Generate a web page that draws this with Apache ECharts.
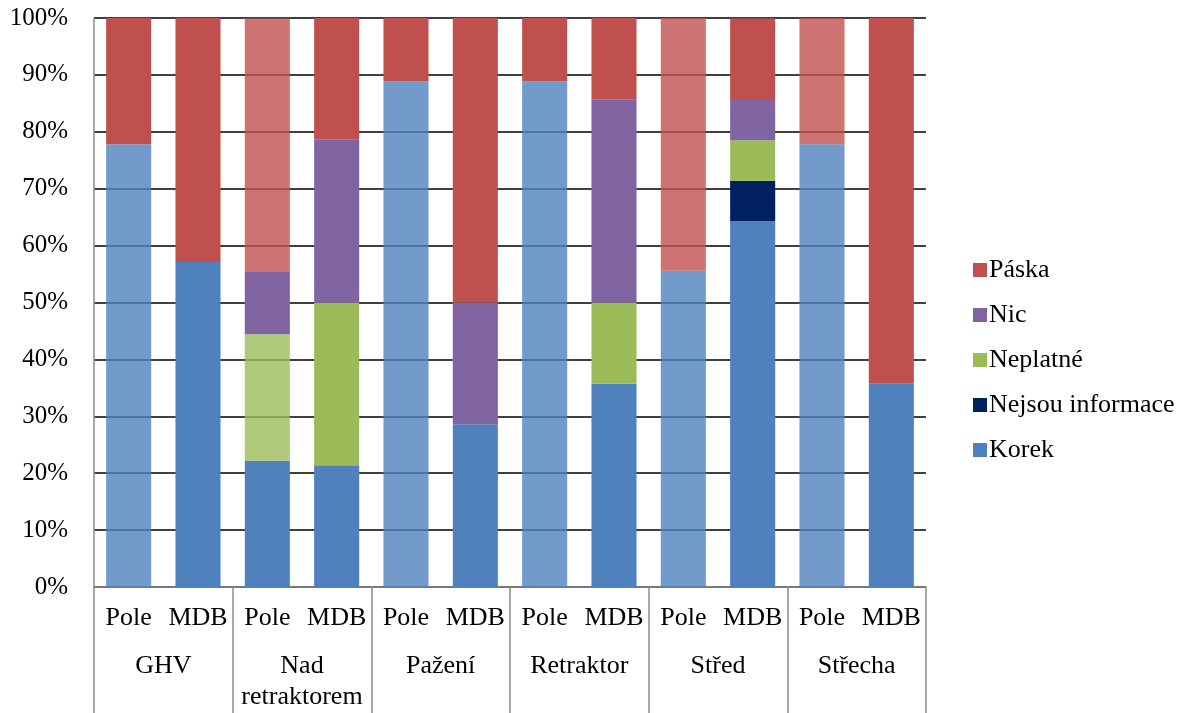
<!DOCTYPE html>
<html>
<head>
<meta charset="utf-8">
<title>Korek / Páska</title>
<script src="https://cdn.jsdelivr.net/npm/echarts@6/dist/echarts.min.js"></script>
<style>
	html, body { margin: 0; padding: 0; background: #fff; }
	#chart { width: 1196px; height: 713px; }
</style>
</head>
<body>
<div id="chart"></div>
<script>
"use strict";

// podkategorie (Pole / MDB) pro kazdou skupinu
var bars = ['Pole', 'MDB', 'Pole', 'MDB', 'Pole', 'MDB', 'Pole', 'MDB', 'Pole', 'MDB', 'Pole', 'MDB'];
var groups = ['GHV', 'Nad\nretraktorem', 'Pažení', 'Retraktor', 'Střed', 'Střecha'];

// hodnoty v procentech, poradi odspodu nahoru
var korek = [77.8, 57.1, 22.2, 21.4, 88.9, 28.6, 88.9, 35.7, 55.6, 64.3, 77.8, 35.7];
var nejsouInformace = [0, 0, 0, 0, 0, 0, 0, 0, 0, 7.1, 0, 0];
var neplatne = [0, 0, 22.2, 28.6, 0, 0, 0, 14.3, 0, 7.1, 0, 0];
var nic = [0, 0, 11.1, 28.6, 0, 21.4, 0, 35.7, 0, 7.1, 0, 0];
var paska = [22.2, 42.9, 44.4, 21.4, 11.1, 50, 11.1, 14.3, 44.4, 14.3, 22.2, 64.3];

var yTicks = [0, 10, 20, 30, 40, 50, 60, 70, 80, 90, 100];

// ktere dilky jsou v originale svetlejsi (indexy sloupcu)
var lightKorek = [0, 4, 6, 8, 10];
var lightNeplatne = [2];
var lightPaska = [2, 8, 10];

var fontFamily = '"Liberation Serif", "Times New Roman", serif';
var axisGray = '#8c8c8c';

var myChart = echarts.init(document.getElementById('chart'), null, { renderer: 'canvas' });

function withOpacity(values, lightIdx) {
	var result = [];
	for (var i = 0; i < values.length; i++) {
		result.push({
			value: values[i],
			itemStyle: { opacity: lightIdx.indexOf(i) >= 0 ? 0.8 : 1 }
		});
	}
	return result;
}

function makeSeries(name, values, color, lightIdx) {
	return {
		name: name,
		type: 'bar',
		stack: 'total',
		barWidth: '65%',
		xAxisIndex: 0,
		data: withOpacity(values, lightIdx),
		itemStyle: { color: color },
		emphasis: { disabled: true }
	};
}

var option = {
	animation: false,
	backgroundColor: '#fff',
	textStyle: { fontFamily: fontFamily },
	grid: {
		left: 94,
		right: 270,
		top: 18,
		bottom: 125,
		containLabel: false
	},
	legend: {
		orient: 'vertical',
		left: 968,
		top: 252,
		itemWidth: 14,
		itemHeight: 14,
		itemGap: 19,
		icon: 'rect',
		data: ['Páska', 'Nic', 'Neplatné', 'Nejsou informace', 'Korek'],
		textStyle: {
			fontFamily: fontFamily,
			fontSize: 26,
			lineHeight: 26,
			color: '#000',
			padding: [0, 0, 0, -3]
		}
	},
	xAxis: [{
			type: 'category',
			data: bars,
			position: 'bottom',
			axisLine: { show: true, lineStyle: { color: axisGray, width: 1.5 } },
			axisTick: { show: false },
			axisLabel: {
				interval: 0,
				margin: 18,
				fontFamily: fontFamily,
				fontSize: 26,
				color: '#000'
			},
			splitLine: { show: false }
		}, {
			type: 'category',
			data: groups,
			position: 'bottom',
			axisLine: { show: false },
			axisTick: {
				show: true,
				length: 130,
				lineStyle: { color: axisGray, width: 1.5 }
			},
			axisLabel: {
				interval: 0,
				margin: 64,
				fontFamily: fontFamily,
				fontSize: 26,
				lineHeight: 31,
				color: '#000'
			},
			splitLine: { show: false }
		}
	],
	yAxis: {
		type: 'value',
		min: yTicks[0],
		max: yTicks[yTicks.length - 1],
		interval: 10,
		axisLine: { show: true, lineStyle: { color: axisGray, width: 1.5 } },
		axisTick: { show: false },
		axisLabel: {
			margin: 26,
			fontFamily: fontFamily,
			fontSize: 25,
			color: '#000',
			formatter: '{value}%'
		},
		splitLine: { show: true, lineStyle: { color: '#000', width: 1.5 } }
	},
	series: [
		makeSeries('Korek', korek, '#4F81BD', lightKorek),
		makeSeries('Nejsou informace', nejsouInformace, '#002060', []),
		makeSeries('Neplatné', neplatne, '#9BBB59', lightNeplatne),
		makeSeries('Nic', nic, '#8064A2', []),
		makeSeries('Páska', paska, '#C0504D', lightPaska)
	]
};

myChart.setOption(option);
</script>
</body>
</html>
